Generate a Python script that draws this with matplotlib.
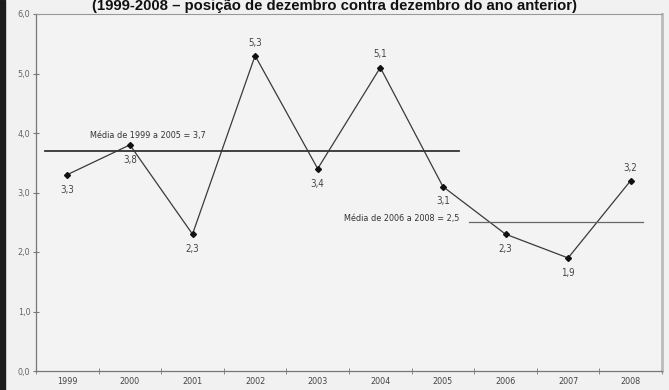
import matplotlib
matplotlib.use("Agg")
import matplotlib.pyplot as plt
from matplotlib.patches import Rectangle
from matplotlib import font_manager

years = ["1999", "2000", "2001", "2002", "2003", "2004", "2005", "2006", "2007", "2008"]
values = [3.3, 3.8, 2.3, 5.3, 3.4, 5.1, 3.1, 2.3, 1.9, 3.2]
label_above = [False, False, False, True, False, True, False, False, False, True]
y_ticks = [0.0, 1.0, 2.0, 3.0, 4.0, 5.0, 6.0]

mean_1 = 3.7
mean_1_text = "Média de 1999 a 2005 = 3,7"
mean_2 = 2.5
mean_2_text = "Média de 2006 a 2008 = 2,5"
title = "(1999-2008 – posição de dezembro contra dezembro do ano anterior)"

# a regular-weight condensed face for the small labels, if one is available
cond = [f for f in font_manager.fontManager.ttflist
        if ("Narrow" in f.name or "ondensed" in f.fname or f.stretch in ("condensed", "semi-condensed"))
        and f.weight in (400, "normal", "regular") and f.style == "normal"
        and "Bold" not in f.fname and "Light" not in f.fname and "Medium" not in f.fname
        and "Semi" not in f.fname and "Extra" not in f.fname]
cond.sort(key=lambda f: (0 if "DejaVu" in f.fname else 1, f.fname))
if cond:
    small_font = dict(fname=cond[0].fname)
else:
    small_font = dict(family="Liberation Sans")

W, H = 669, 390
fig = plt.figure(figsize=(W / 100, H / 100), dpi=100, facecolor="#f1f1f1")
ax = fig.add_axes([36 / W, 1 - 371 / H, (662 - 36) / W, (371 - 14) / H])
ax.set_facecolor("#f3f3f3")


def fp(size):
    return font_manager.FontProperties(size=size, **small_font)


x = list(range(len(years)))
ax.plot(x, values, color="#3a3a3a", lw=0.9, marker="D", ms=3, mfc="#111111", mec="#111111")

for i, v in enumerate(values):
    txt = f"{v:.1f}".replace(".", ",")
    dy = 0.22 if label_above[i] else -0.25
    ax.text(i, v + dy, txt, ha="center", va="center", fontproperties=fp(7), color="#444444")

# period averages
ax.plot([-0.36, 6.26], [mean_1, mean_1], color="#333333", lw=1.3)
ax.text(1.29, mean_1 + 0.25, mean_1_text, ha="center", va="center", fontproperties=fp(6.5), color="#333333")
ax.plot([6.42, 9.2], [mean_2, mean_2], color="#666666", lw=0.9)
ax.text(6.26, mean_2 + 0.07, mean_2_text, ha="right", va="center", fontproperties=fp(6.5), color="#333333")

ax.set_xlim(-0.5, 9.5)
ax.set_ylim(0, 6)
ax.set_yticks(y_ticks)
ax.set_yticklabels([f"{t:.1f}".replace(".", ",") for t in y_ticks], fontproperties=fp(6.5), color="#666666")
ax.set_xticks(x)
ax.set_xticklabels(years, fontproperties=fp(6.5), color="#444444")
ax.set_xticks([i + 0.5 for i in range(-1, len(years))], minor=True)
ax.tick_params(axis="x", which="major", length=0, pad=4)
ax.tick_params(axis="x", which="minor", length=4, direction="inout", color="#777777")
ax.tick_params(axis="y", length=4, direction="inout", color="#777777", pad=2)

for side in ["left", "bottom"]:
    ax.spines[side].set_color("#777777")
    ax.spines[side].set_linewidth(0.9)
ax.spines["top"].set_color("#999999")
ax.spines["top"].set_linewidth(0.8)
ax.spines["right"].set_color("#bbbbbb")
ax.spines["right"].set_linewidth(2)

fig.text(335 / W, 1 - 6 / H, title, ha="center", va="center", fontsize=10.7,
         fontweight="bold", color="#111111", family=["Liberation Sans", "DejaVu Sans"])

fig.patches.append(Rectangle((0, 0), 5 / W, 1, transform=fig.transFigure, color="#1c1c1c", zorder=5))

fig.savefig("out.png", dpi=100, facecolor=fig.get_facecolor())
